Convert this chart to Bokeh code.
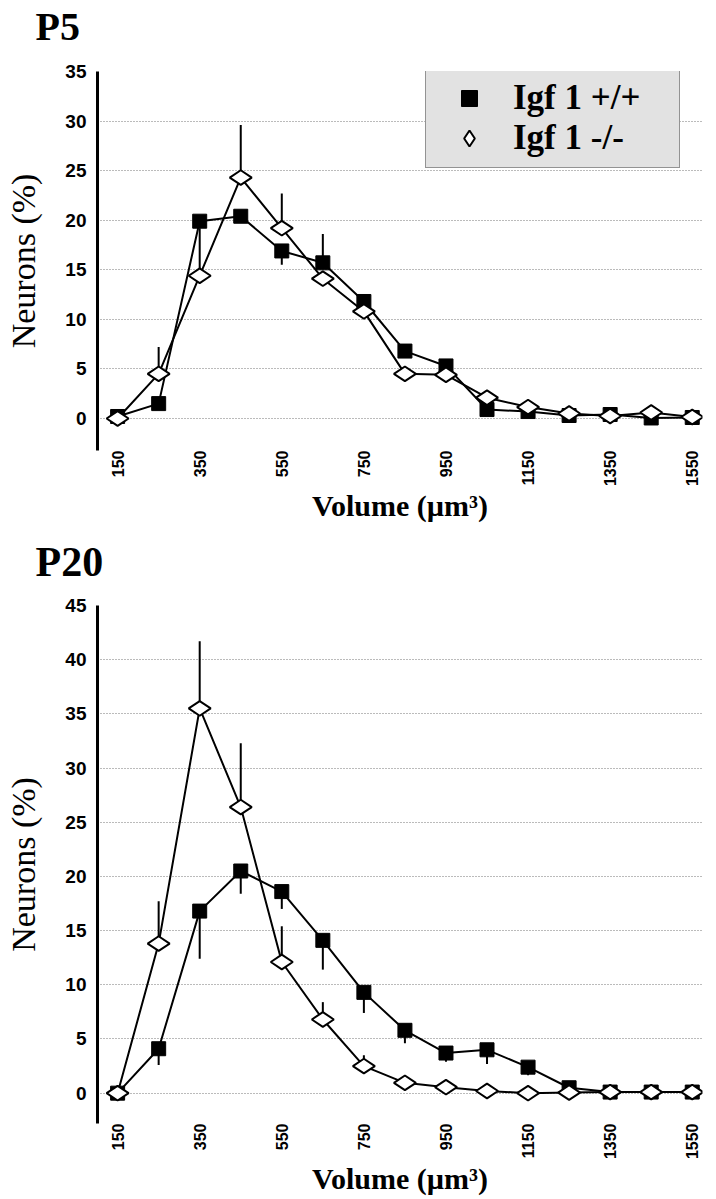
from math import pi
from bokeh.plotting import figure
from bokeh.layouts import column
from bokeh.models import Range1d, FixedTicker, Legend, LegendItem, Title
from bokeh.embed import file_html
from bokeh.resources import INLINE

# ---------------- data ----------------
volume = [150, 250, 350, 450, 550, 650, 750, 850, 950, 1050, 1150, 1250, 1350, 1450, 1550]
tick_labels = [150, 350, 550, 750, 950, 1150, 1350, 1550]
series_names = ["Igf 1 +/+", "Igf 1 -/-"]

p5_y_ticks = [0, 5, 10, 15, 20, 25, 30, 35]
p5_wt = [0.2, 1.5, 19.9, 20.4, 16.9, 15.7, 11.8, 6.8, 5.3, 0.9, 0.7, 0.3, 0.4, 0.05, 0.1]
p5_ko = [0.0, 4.5, 14.4, 24.3, 19.2, 14.1, 10.8, 4.5, 4.4, 2.1, 1.15, 0.5, 0.25, 0.6, 0.15]
# signed error bars: + drawn upward, - drawn downward, 0 none
p5_wt_err = [0, 0, 0, 0, -1.4, 2.9, 0, 0, 0, 0, 0, 0, 0, 0, 0]
p5_ko_err = [0, 2.7, 4.8, 5.3, 3.5, 0, 0, 0, 0, 0, 0, 0, 0, 0, 0]

p20_y_ticks = [0, 5, 10, 15, 20, 25, 30, 35, 40, 45]
p20_wt = [0.0, 4.1, 16.8, 20.5, 18.6, 14.1, 9.3, 5.8, 3.7, 4.0, 2.4, 0.5, 0.1, 0.1, 0.1]
p20_ko = [0.0, 13.8, 35.5, 26.4, 12.1, 6.8, 2.5, 0.95, 0.55, 0.2, 0.0, 0.05, 0.1, 0.1, 0.1]
p20_wt_err = [0, -1.5, -4.4, -2.1, -1.6, -2.7, -1.9, -1.2, -0.8, -1.3, -0.75, 0, 0, 0, 0]
p20_ko_err = [0, 3.9, 6.2, 5.9, 3.3, 1.6, 1.0, 0, 0, 0, 0, 0, 0, 0, 0]

SERIF = "Liberation Serif"
SANS = "Liberation Sans"
FRAME_W = 605
LEFT = 97


def make_chart(title, y_ticks, y_min, wt, ko, wt_err, ko_err, frame_h, border_top,
               border_bottom, title_size, spacer, with_legend):
    p = figure(width=LEFT + FRAME_W + 8, height=border_top + frame_h + border_bottom,
               output_backend="svg", toolbar_location=None,
               x_range=Range1d(101, 1575), y_range=Range1d(y_min, y_ticks[-1]),
               min_border_left=LEFT, min_border_right=8,
               min_border_top=border_top, min_border_bottom=border_bottom)
    p.outline_line_color = None
    p.background_fill_color = "white"
    p.border_fill_color = "white"

    # panel title: an empty spacer title next to the frame pushes the real one up
    p.add_layout(Title(text=" ", text_font_size="2px", standoff=spacer), "above")
    p.add_layout(Title(text=title, text_font=SERIF, text_font_style="bold",
                       text_font_size=title_size, text_color="black",
                       align="left", offset=-62, standoff=0), "above")

    # grid
    p.xgrid.grid_line_color = None
    p.ygrid.ticker = FixedTicker(ticks=y_ticks)
    p.ygrid.grid_line_color = "#777777"
    p.ygrid.grid_line_dash = "1 2"
    p.ygrid.grid_line_width = 1

    # y axis
    p.yaxis.ticker = FixedTicker(ticks=y_ticks)
    p.yaxis.axis_line_width = 3
    p.yaxis.axis_line_color = "black"
    p.yaxis.major_tick_line_color = None
    p.yaxis.minor_tick_line_color = None
    p.yaxis.major_tick_out = 0
    p.yaxis.major_tick_in = 0
    p.yaxis.major_label_standoff = 11
    p.yaxis.major_label_text_font = SANS
    p.yaxis.major_label_text_font_style = "bold"
    p.yaxis.major_label_text_font_size = "19px"
    p.yaxis.major_label_text_color = "black"
    p.yaxis.axis_label = "Neurons (%)"
    p.yaxis.axis_label_text_font = SERIF
    p.yaxis.axis_label_text_font_style = "normal"
    p.yaxis.axis_label_text_font_size = "34px"
    p.yaxis.axis_label_text_color = "black"
    p.yaxis.axis_label_standoff = 20

    # x axis
    p.xaxis.ticker = FixedTicker(ticks=tick_labels)
    p.xaxis.axis_line_color = None
    p.xaxis.major_tick_line_color = None
    p.xaxis.minor_tick_line_color = None
    p.xaxis.major_tick_out = 0
    p.xaxis.major_tick_in = 0
    p.xaxis.major_label_orientation = pi / 2
    p.xaxis.major_label_standoff = 0
    p.xaxis.major_label_text_font = SANS
    p.xaxis.major_label_text_font_style = "bold"
    p.xaxis.major_label_text_font_size = "16px"
    p.xaxis.major_label_text_color = "black"
    p.xaxis.axis_label = "Volume (µm³)"
    p.xaxis.axis_label_text_font = SERIF
    p.xaxis.axis_label_text_font_style = "bold"
    p.xaxis.axis_label_text_font_size = "30px"
    p.xaxis.axis_label_text_color = "black"
    p.xaxis.axis_label_standoff = 0

    # lines
    p.line(volume, wt, line_color="black", line_width=2)
    p.line(volume, ko, line_color="black", line_width=2)

    # error bars
    for vals, errs in ((wt, wt_err), (ko, ko_err)):
        xs = [x for x, e in zip(volume, errs) if e != 0]
        y0 = [v for v, e in zip(vals, errs) if e != 0]
        y1 = [v + e for v, e in zip(vals, errs) if e != 0]
        p.segment(x0=xs, y0=y0, x1=xs, y1=y1, line_color="black", line_width=2)

    sq = p.scatter(volume, wt, marker="square", size=14, fill_color="black",
                   line_color="black", line_width=1)
    di = p.scatter(volume, ko, marker="diamond", size=22, angle=pi / 2,
                   fill_color="white", line_color="black", line_width=2)

    if with_legend:
        legend = Legend(items=[LegendItem(label=series_names[0], renderers=[sq]),
                               LegendItem(label=series_names[1], renderers=[di])],
                        location=(328, 282))
        legend.padding = 9
        legend.spacing = 0
        legend.margin = 0
        legend.glyph_width = 68
        legend.glyph_height = 40
        legend.label_height = 40
        legend.label_width = 157
        legend.label_standoff = 10
        legend.label_text_font = SERIF
        legend.label_text_font_style = "bold"
        legend.label_text_font_size = "35px"
        legend.label_text_line_height = 1.0
        legend.label_text_color = "black"
        legend.label_text_baseline = "middle"
        legend.background_fill_color = "#e2e2e2"
        legend.background_fill_alpha = 1
        legend.border_line_color = "#444444"
        legend.border_line_width = 1.5
        p.add_layout(legend)
    return p


p1 = make_chart("P5", p5_y_ticks, -3.23, p5_wt, p5_ko, p5_wt_err, p5_ko_err,
                frame_h=379, border_top=71, border_bottom=85,
                title_size="40px", spacer=19, with_legend=True)
p2 = make_chart("P20", p20_y_ticks, -2.8, p20_wt, p20_ko, p20_wt_err, p20_ko_err,
                frame_h=520, border_top=70, border_bottom=73,
                title_size="42px", spacer=17, with_legend=False)

layout = column(p1, p2, spacing=0)
open("out.html", "w").write(file_html(layout, INLINE))
